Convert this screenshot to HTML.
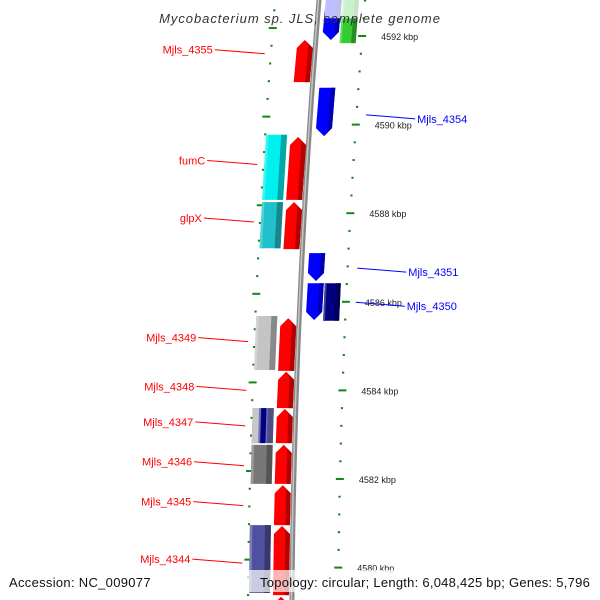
<!DOCTYPE html>
<html><head><meta charset="utf-8"><style>
html,body{margin:0;padding:0;background:#fff;width:600px;height:600px;overflow:hidden}
svg{display:block;font-family:"Liberation Sans","DejaVu Sans",sans-serif;overflow:hidden}
</style></head><body>
<svg id="chart" width="600" height="600" viewBox="0 0 600 600" xmlns="http://www.w3.org/2000/svg">
<defs><clipPath id="clip"><rect x="0" y="0" width="600" height="600"/></clipPath></defs>
<g clip-path="url(#clip)">
<g id="ticks"></g>
<g id="backbone"></g>
<g id="genes"></g>
<g id="labels"></g>
</g>
<text x="300" y="23" text-anchor="middle" font-size="13" font-style="italic" fill="#333" letter-spacing="0.95">Mycobacterium sp. JLS, complete genome</text>
<text x="9" y="587" font-size="13" fill="#111" letter-spacing="0.3">Accession: NC_009077</text>
<rect x="225" y="570" width="375" height="22" fill="#fff" opacity="0.7"/>
<text x="260" y="587" font-size="13" fill="#111" letter-spacing="0.25">Topology: circular; Length: 6,048,425 bp; Genes: 5,796</text>
</svg>
<script>
const geneNames=["Mjls_4355","fumC-red","fumC","glpX-red","glpX","Mjls_4349-red","Mjls_4349","Mjls_4348","Mjls_4347-red","Mjls_4347","Mjls_4346-red","Mjls_4346","Mjls_4345","Mjls_4344-red","Mjls_4344","next-red","Mjls_4354","Mjls_4351","Mjls_4350","Mjls_4350b","top-blue","top-green"];
const geneStart=[4590.96,4588.30,4588.30,4587.19,4587.21,4584.44,4584.46,4583.60,4582.81,4582.81,4581.89,4581.89,4580.96,4579.38,4579.43,4578.6,4590.83,4587.10,4586.42,4586.42,4591.91,4591.84];
const geneEnd=[4591.91,4589.72,4589.77,4588.25,4588.25,4585.63,4585.68,4584.42,4583.58,4583.60,4582.77,4582.77,4581.86,4580.94,4580.96,4579.34,4589.74,4586.47,4585.59,4585.57,4593.1,4593.1];
const geneTrack=[1,1,2,1,2,1,2,1,1,2,1,2,1,1,2,1,3,3,3,4,3,4];
const geneStrand=[1,1,0,1,0,1,0,1,1,0,1,0,1,1,0,1,-1,-1,-1,0,-1,0];
const geneColor=["#ff0000","#ff0000","#00f0f0","#ff0000","#20c0cc","#ff0000","#c4c4c4","#ff0000","#ff0000","#7070c0","#ff0000","#787878","#ff0000","#ff0000","#5050a0","#ff0000","#0000ff","#0000ff","#0000ff","#000080","#0000ff","#33cc33"];
const labelText=["Mjls_4355","fumC","glpX","Mjls_4349","Mjls_4348","Mjls_4347","Mjls_4346","Mjls_4345","Mjls_4344","Mjls_4354","Mjls_4351","Mjls_4350"];
const labelKb=[4591.6,4589.1,4587.8,4585.1,4584.0,4583.2,4582.3,4581.4,4580.1,4590.13,4586.67,4585.9];
const labelSide=[-1,-1,-1,-1,-1,-1,-1,-1,-1,1,1,1];
const majorTicks=[4580,4582,4584,4586,4588,4590,4592];
const tickLabels=["4580 kbp","4582 kbp","4584 kbp","4586 kbp","4588 kbp","4590 kbp","4592 kbp"];

const NS="http://www.w3.org/2000/svg";
function yOf(kb){return 36+(4592-kb)*44.3;}
function bx(y){return 319-0.0817*y+0.000061*y*y;}
const trackOff={1:[-19,-3],2:[-43,-22],3:[7,23],4:[24,40]};
function mk(tag,attrs,parent){const e=document.createElementNS(NS,tag);for(const k in attrs)e.setAttribute(k,attrs[k]);parent.appendChild(e);return e;}

const bbG=document.getElementById('backbone');
let d="";for(let y=-5;y<=605;y+=5){d+=(y===-5?"M":"L")+bx(y).toFixed(2)+" "+y+" ";}
const bb=mk('path',{d:d,stroke:"#888",'stroke-width':5,fill:"none"},bbG);


const bb2=mk('path',{d:d,stroke:"#c4c4c4",'stroke-width':1.5,fill:"none",transform:"translate(-0.5,0)"},bbG);



const tG=document.getElementById('ticks');
for(let i=0;i<=45;i++){
  const kb=4578+i*0.4;const isMajor=Math.abs(kb/2-Math.round(kb/2))<0.01;
  [[46,0],[-44,0.18]].forEach(([off,sh])=>{
    const y=yOf(kb+sh);const x=bx(y)+off;
    const t=mk('rect',{x:x-(isMajor?4:1),y:y-1,width:isMajor?8:2.2,height:2,fill:"#118811"},tG);
    
    
  });
}
majorTicks.forEach((kb,i)=>{
  const y=yOf(kb);const x=bx(y)+46;
  const t=mk('text',{x:x+19,y:y+4,'font-size':9,fill:"#222"},tG);
  t.textContent=tickLabels[i];
  
  
});

function shade(c,f){const n=parseInt(c.slice(1),16);let r=n>>16,g=(n>>8)&255,b=n&255;
  if(f<0){r*=1+f;g*=1+f;b*=1+f;}else{r+=(255-r)*f;g+=(255-g)*f;b+=(255-b)*f;}
  return "rgb("+[r,g,b].map(v=>Math.round(v)).join(",")+")";}

const gG=document.getElementById('genes');
geneNames.forEach((nm,i)=>{
  const ya=yOf(geneEnd[i]), yb=yOf(geneStart[i]);
  const y1=Math.min(ya,yb), y2=Math.max(ya,yb);
  const [o1,o2]=trackOff[geneTrack[i]];
  const s=geneStrand[i];const tip=8;
  const g=mk('g',{},gG);
  
  
  function poly(a,b,fill){
    const xa1=bx(y1)+a, xb1=bx(y1)+b, xa2=bx(y2)+a, xb2=bx(y2)+b;
    const xm1=bx(y1)+(o1+o2)/2, xm2=bx(y2)+(o1+o2)/2;
    let pts;
    if(s===1){
      pts=[[xa1,y1+tip],[xb1,y1+tip],[xb2,y2],[xa2,y2]];
      if(a===o1&&b===o2)pts=[[xa1,y1+tip],[xm1,y1],[xb1,y1+tip],[xb2,y2],[xa2,y2]];
    }else if(s===-1){
      pts=[[xa1,y1],[xb1,y1],[xb2,y2-tip],[xa2,y2-tip]];
      if(a===o1&&b===o2)pts=[[xa1,y1],[xb1,y1],[xb2,y2-tip],[xm2,y2],[xa2,y2-tip]];
    }else pts=[[xa1,y1],[xb1,y1],[xb2,y2],[xa2,y2]];
    return mk('polygon',{points:pts.map(p=>p[0].toFixed(1)+","+p[1].toFixed(1)).join(" "),fill:fill},g);
  }
  poly(o1,o2,geneColor[i]);
  const w=o2-o1;
  if(s!==0){
    const xb1=bx(y1)+o2, xb2=bx(y2)+o2, xm1=bx(y1)+(o1+o2)/2, xm2=bx(y2)+(o1+o2)/2, xs1=bx(y1)+o1+w*0.72, xs2=bx(y2)+o1+w*0.72;
    let pts;
    if(s===1)pts=[[xm1,y1],[xb1,y1+tip],[xb2,y2],[xs2,y2],[xs1,y1+tip*0.6]];
    else pts=[[xs1,y1],[xb1,y1],[xb2,y2-tip],[xm2,y2],[xs2,y2-tip*0.6]];
    mk('polygon',{points:pts.map(p=>p[0].toFixed(1)+","+p[1].toFixed(1)).join(" "),fill:shade(geneColor[i],-0.3)},g);
  }else{
    poly(o1+w*0.72,o2,shade(geneColor[i],-0.3));
    poly(o1,o1+w*0.12,shade(geneColor[i],0.25));
  }
  if(nm==="Mjls_4347"){poly(o1,o1+w*0.3,"#c8c8c8");poly(o1+w*0.4,o1+w*0.65,"#000080");}
  if(nm==="top-blue"||nm==="top-green"){const yy=yOf(4592.4);mk('rect',{x:bx(0)+o1-1,y:-5,width:w+4,height:yy+5,fill:"#fff",opacity:0.75},g);}
});

const lG=document.getElementById('labels');
labelText.forEach((txt,i)=>{
  const y=yOf(labelKb[i]);const side=labelSide[i];
  const g=mk('g',{},lG);
  
  
  const col=side<0?"#ff0000":"#0000ff";
  if(side<0){
    const xe=bx(y)-50;
    mk('line',{x1:xe-50,y1:y-4,x2:xe,y2:y,stroke:col,'stroke-width':1},g);
    const t=mk('text',{x:xe-52,y:y,'text-anchor':"end",'font-size':11,fill:col},g);t.textContent=txt;
  }else{
    const xs=bx(y)+56;
    mk('line',{x1:xs,y1:y-4,x2:xs+49,y2:y,stroke:col,'stroke-width':1},g);
    const t=mk('text',{x:xs+51,y:y+4,'font-size':11,fill:col},g);t.textContent=txt;
  }
});
</script>
</body></html>
